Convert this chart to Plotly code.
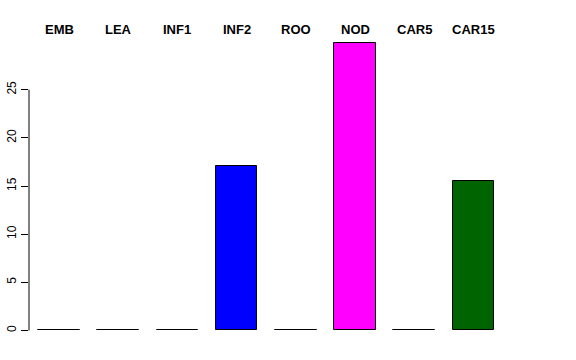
import plotly.graph_objects as go

categories = ["EMB", "LEA", "INF1", "INF2", "ROO", "NOD", "CAR5", "CAR15"]
values = [0, 0, 0, 17.05, 0, 29.9, 0, 15.5]
colors = ["#BEBEBE", "#BEBEBE", "#BEBEBE", "#0000FF", "#BEBEBE", "#FF00FF", "#BEBEBE", "#006400"]
y_ticks = [0, 5, 10, 15, 20, 25]

xpos = list(range(len(categories)))

fig = go.Figure()
fig.add_trace(go.Bar(
    x=xpos, y=values, width=0.7,
    marker=dict(color=colors, line=dict(color="#000000", width=1)),
    hoverinfo="x+y",
))

for i, c in enumerate(categories):
    fig.add_annotation(x=i, y=1.0055, xref="x", yref="paper", text="<b>%s</b>" % c,
                       showarrow=False, font=dict(family="Liberation Sans, Arial", size=13, color="black"),
                       xanchor="center", yanchor="middle")

# partial y axis line (0..25) as in R
fig.add_shape(type="line", xref="paper", yref="y", x0=0, x1=0, y0=0, y1=25,
              line=dict(color="#000000", width=1))

fig.update_layout(
    width=576, height=360,
    margin=dict(l=29, r=64, t=31, b=17.6, autoexpand=False),
    paper_bgcolor="white", plot_bgcolor="white",
    showlegend=False,
    bargap=0,
    xaxis=dict(range=[-0.507, 7.652], showticklabels=False, showgrid=False, zeroline=False,
               showline=False, ticks="", automargin=False),
    yaxis=dict(range=[-1.2, 31.1], tickvals=y_ticks, ticktext=[str(v) for v in y_ticks],
               tickangle=-90, ticks="outside", ticklen=7, tickcolor="#000000",
               showgrid=False, zeroline=False, showline=False, automargin=False,
               tickfont=dict(family="Liberation Sans, Arial", size=12, color="black")),
)

fig.write_html("out.html", config={"displayModeBar": False},
               post_script="document.body.style.margin='0px';document.body.style.padding='0px';")
